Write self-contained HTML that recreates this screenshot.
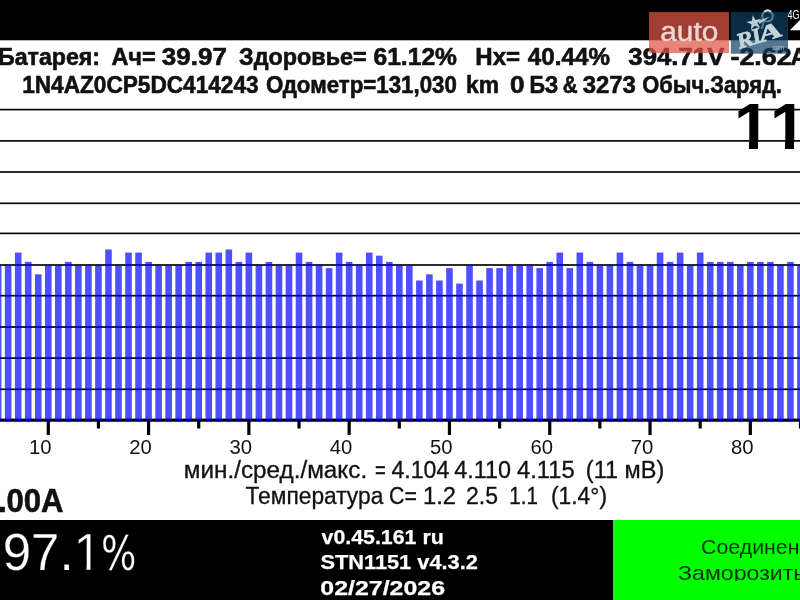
<!DOCTYPE html>
<html><head><meta charset="utf-8"><title>LeafSpy</title><style>
html,body{margin:0;padding:0;width:800px;height:600px;overflow:hidden;background:#fff}
svg{display:block;will-change:transform}
text{font-family:"Liberation Sans",Arial,sans-serif}
</style></head><body>
<svg width="800" height="600" viewBox="0 0 800 600">
<rect x="0" y="0" width="800" height="40.3" fill="#000"/>
<g fill="#080808"><rect x="0" y="108.75" width="800" height="1.7"/><rect x="0" y="140.05" width="800" height="1.7"/><rect x="0" y="171.15" width="800" height="1.7"/><rect x="0" y="202.45" width="800" height="1.7"/><rect x="0" y="232.55" width="800" height="1.7"/><rect x="0" y="264.15" width="800" height="1.7"/><rect x="0" y="294.85" width="800" height="1.7"/><rect x="0" y="326.15" width="800" height="1.7"/><rect x="0" y="357.25" width="800" height="1.7"/><rect x="0" y="388.45" width="800" height="1.7"/></g>
<rect x="0" y="418.6" width="800" height="3.1" fill="#000"/>
<g fill="rgb(0,0,255)" fill-opacity="0.69"><rect x="-5.16" y="265.00" width="6.6" height="156.70"/><rect x="4.87" y="265.00" width="6.6" height="156.70"/><rect x="14.90" y="252.58" width="6.6" height="169.12"/><rect x="24.93" y="261.90" width="6.6" height="159.80"/><rect x="34.96" y="274.31" width="6.6" height="147.39"/><rect x="44.99" y="265.00" width="6.6" height="156.70"/><rect x="55.02" y="265.00" width="6.6" height="156.70"/><rect x="65.05" y="261.90" width="6.6" height="159.80"/><rect x="75.08" y="265.00" width="6.6" height="156.70"/><rect x="85.11" y="265.00" width="6.6" height="156.70"/><rect x="95.14" y="265.00" width="6.6" height="156.70"/><rect x="105.16" y="249.48" width="6.6" height="172.22"/><rect x="115.19" y="265.00" width="6.6" height="156.70"/><rect x="125.22" y="252.58" width="6.6" height="169.12"/><rect x="135.25" y="252.58" width="6.6" height="169.12"/><rect x="145.28" y="261.90" width="6.6" height="159.80"/><rect x="155.31" y="265.00" width="6.6" height="156.70"/><rect x="165.34" y="265.00" width="6.6" height="156.70"/><rect x="175.37" y="265.00" width="6.6" height="156.70"/><rect x="185.40" y="261.90" width="6.6" height="159.80"/><rect x="195.43" y="261.90" width="6.6" height="159.80"/><rect x="205.45" y="252.58" width="6.6" height="169.12"/><rect x="215.48" y="252.58" width="6.6" height="169.12"/><rect x="225.51" y="249.48" width="6.6" height="172.22"/><rect x="235.54" y="261.90" width="6.6" height="159.80"/><rect x="245.57" y="252.58" width="6.6" height="169.12"/><rect x="255.60" y="265.00" width="6.6" height="156.70"/><rect x="265.63" y="261.90" width="6.6" height="159.80"/><rect x="275.66" y="265.00" width="6.6" height="156.70"/><rect x="285.69" y="265.00" width="6.6" height="156.70"/><rect x="295.71" y="252.58" width="6.6" height="169.12"/><rect x="305.74" y="261.90" width="6.6" height="159.80"/><rect x="315.77" y="265.00" width="6.6" height="156.70"/><rect x="325.80" y="268.10" width="6.6" height="153.60"/><rect x="335.83" y="252.58" width="6.6" height="169.12"/><rect x="345.86" y="261.90" width="6.6" height="159.80"/><rect x="355.89" y="265.00" width="6.6" height="156.70"/><rect x="365.92" y="252.58" width="6.6" height="169.12"/><rect x="375.95" y="255.69" width="6.6" height="166.01"/><rect x="385.98" y="261.90" width="6.6" height="159.80"/><rect x="396.00" y="265.00" width="6.6" height="156.70"/><rect x="406.03" y="265.00" width="6.6" height="156.70"/><rect x="416.06" y="280.52" width="6.6" height="141.18"/><rect x="426.09" y="274.31" width="6.6" height="147.39"/><rect x="436.12" y="280.52" width="6.6" height="141.18"/><rect x="446.15" y="268.10" width="6.6" height="153.60"/><rect x="456.18" y="283.62" width="6.6" height="138.08"/><rect x="466.21" y="265.00" width="6.6" height="156.70"/><rect x="476.24" y="280.52" width="6.6" height="141.18"/><rect x="486.27" y="268.10" width="6.6" height="153.60"/><rect x="496.30" y="268.10" width="6.6" height="153.60"/><rect x="506.32" y="265.00" width="6.6" height="156.70"/><rect x="516.35" y="265.00" width="6.6" height="156.70"/><rect x="526.38" y="265.00" width="6.6" height="156.70"/><rect x="536.41" y="268.10" width="6.6" height="153.60"/><rect x="546.44" y="261.90" width="6.6" height="159.80"/><rect x="556.47" y="252.58" width="6.6" height="169.12"/><rect x="566.50" y="268.10" width="6.6" height="153.60"/><rect x="576.53" y="252.58" width="6.6" height="169.12"/><rect x="586.56" y="261.90" width="6.6" height="159.80"/><rect x="596.59" y="265.00" width="6.6" height="156.70"/><rect x="606.61" y="265.00" width="6.6" height="156.70"/><rect x="616.64" y="252.58" width="6.6" height="169.12"/><rect x="626.67" y="261.90" width="6.6" height="159.80"/><rect x="636.70" y="265.00" width="6.6" height="156.70"/><rect x="646.73" y="265.00" width="6.6" height="156.70"/><rect x="656.76" y="252.58" width="6.6" height="169.12"/><rect x="666.79" y="261.90" width="6.6" height="159.80"/><rect x="676.82" y="252.58" width="6.6" height="169.12"/><rect x="686.85" y="265.00" width="6.6" height="156.70"/><rect x="696.88" y="252.58" width="6.6" height="169.12"/><rect x="706.90" y="261.90" width="6.6" height="159.80"/><rect x="716.93" y="261.90" width="6.6" height="159.80"/><rect x="726.96" y="261.90" width="6.6" height="159.80"/><rect x="736.99" y="265.00" width="6.6" height="156.70"/><rect x="747.02" y="261.90" width="6.6" height="159.80"/><rect x="757.05" y="261.90" width="6.6" height="159.80"/><rect x="767.08" y="261.90" width="6.6" height="159.80"/><rect x="777.11" y="265.00" width="6.6" height="156.70"/><rect x="787.14" y="261.90" width="6.6" height="159.80"/><rect x="797.17" y="265.00" width="6.6" height="156.70"/></g>
<g fill="#000"><rect x="46.69" y="420" width="3.2" height="15"/><rect x="96.84" y="420" width="3.2" height="8.5"/><rect x="146.98" y="420" width="3.2" height="15"/><rect x="197.13" y="420" width="3.2" height="8.5"/><rect x="247.27" y="420" width="3.2" height="15"/><rect x="297.41" y="420" width="3.2" height="8.5"/><rect x="347.56" y="420" width="3.2" height="15"/><rect x="397.70" y="420" width="3.2" height="8.5"/><rect x="447.85" y="420" width="3.2" height="15"/><rect x="498.00" y="420" width="3.2" height="8.5"/><rect x="548.14" y="420" width="3.2" height="15"/><rect x="598.28" y="420" width="3.2" height="8.5"/><rect x="648.43" y="420" width="3.2" height="15"/><rect x="698.57" y="420" width="3.2" height="8.5"/><rect x="748.72" y="420" width="3.2" height="15"/><rect x="798.87" y="420" width="3.2" height="8.5"/></g>
<g font-size="20.3" fill="#111"><text x="51.49" y="453.5" text-anchor="end">10</text><text x="151.78" y="453.5" text-anchor="end">20</text><text x="252.07" y="453.5" text-anchor="end">30</text><text x="352.36" y="453.5" text-anchor="end">40</text><text x="452.65" y="453.5" text-anchor="end">50</text><text x="552.94" y="453.5" text-anchor="end">60</text><text x="653.23" y="453.5" text-anchor="end">70</text><text x="753.52" y="453.5" text-anchor="end">80</text></g>
<g fill="#111" stroke="#111">
<text x="-1.97" y="64.8" font-weight="bold" font-size="23.5" stroke-width="0.6" textLength="102.05" lengthAdjust="spacingAndGlyphs">Батарея:</text>
<text x="111.40" y="64.8" font-weight="bold" font-size="23.5" stroke-width="0.6" textLength="44.34" lengthAdjust="spacingAndGlyphs">Ач=</text>
<text x="161.89" y="64.8" font-weight="bold" font-size="23.5" stroke-width="0.6" textLength="65.00" lengthAdjust="spacingAndGlyphs">39.97</text>
<text x="239.01" y="64.8" font-weight="bold" font-size="23.5" stroke-width="0.6" textLength="127.63" lengthAdjust="spacingAndGlyphs">Здоровье=</text>
<text x="373.45" y="64.8" font-weight="bold" font-size="23.5" stroke-width="0.6" textLength="83.54" lengthAdjust="spacingAndGlyphs">61.12%</text>
<text x="475.36" y="64.8" font-weight="bold" font-size="23.5" stroke-width="0.6" textLength="44.73" lengthAdjust="spacingAndGlyphs">Нх=</text>
<text x="527.80" y="64.8" font-weight="bold" font-size="23.5" stroke-width="0.6" textLength="82.12" lengthAdjust="spacingAndGlyphs">40.44%</text>
<text x="628.30" y="64.8" font-weight="bold" font-size="23.5" stroke-width="0.6" textLength="96.06" lengthAdjust="spacingAndGlyphs">394.71V</text>
<text x="730.46" y="64.8" font-weight="bold" font-size="23.5" stroke-width="0.6" textLength="61.20" lengthAdjust="spacingAndGlyphs">-2.62</text>
<text x="22.17" y="93.3" font-weight="bold" font-size="23.5" stroke-width="0.6" textLength="236.40" lengthAdjust="spacingAndGlyphs">1N4AZ0CP5DC414243</text>
<text x="265.95" y="93.3" font-weight="bold" font-size="23.5" stroke-width="0.6" textLength="190.92" lengthAdjust="spacingAndGlyphs">Одометр=131,030</text>
<text x="466.06" y="93.3" font-weight="bold" font-size="23.5" stroke-width="0.6" textLength="32.98" lengthAdjust="spacingAndGlyphs">km</text>
<text x="510.14" y="93.3" font-weight="bold" font-size="23.5" stroke-width="0.6" textLength="14.56" lengthAdjust="spacingAndGlyphs">0</text>
<text x="529.41" y="93.3" font-weight="bold" font-size="23.5" stroke-width="0.6" textLength="28.80" lengthAdjust="spacingAndGlyphs">БЗ</text>
<text x="562.87" y="93.3" font-weight="bold" font-size="23.5" stroke-width="0.6" textLength="14.89" lengthAdjust="spacingAndGlyphs">&amp;</text>
<text x="582.73" y="93.3" font-weight="bold" font-size="23.5" stroke-width="0.6" textLength="53.15" lengthAdjust="spacingAndGlyphs">3273</text>
<text x="642.17" y="93.3" font-weight="bold" font-size="23.5" stroke-width="0.6" textLength="139.72" lengthAdjust="spacingAndGlyphs">Обыч.Заряд.</text>
<text x="183.89" y="478.4" font-weight="normal" font-size="23" stroke-width="0.3" textLength="183.26" lengthAdjust="spacingAndGlyphs">мин./сред./макс.</text>
<text x="375.00" y="478.4" font-weight="normal" font-size="23" stroke-width="0.3" textLength="10.75" lengthAdjust="spacingAndGlyphs">=</text>
<text x="391.50" y="478.4" font-weight="normal" font-size="23" stroke-width="0.3" textLength="57.82" lengthAdjust="spacingAndGlyphs">4.104</text>
<text x="454.28" y="478.4" font-weight="normal" font-size="23" stroke-width="0.3" textLength="56.84" lengthAdjust="spacingAndGlyphs">4.110</text>
<text x="516.97" y="478.4" font-weight="normal" font-size="23" stroke-width="0.3" textLength="57.72" lengthAdjust="spacingAndGlyphs">4.115</text>
<text x="585.88" y="478.4" font-weight="normal" font-size="23" stroke-width="0.3" textLength="78.41" lengthAdjust="spacingAndGlyphs">(11 мВ)</text>
<text x="245.51" y="503.5" font-weight="normal" font-size="23" stroke-width="0.3" textLength="137.80" lengthAdjust="spacingAndGlyphs">Температура</text>
<text x="389.07" y="503.5" font-weight="normal" font-size="23" stroke-width="0.3" textLength="27.90" lengthAdjust="spacingAndGlyphs">C=</text>
<text x="422.93" y="503.5" font-weight="normal" font-size="23" stroke-width="0.3" textLength="33.09" lengthAdjust="spacingAndGlyphs">1.2</text>
<text x="466.00" y="503.5" font-weight="normal" font-size="23" stroke-width="0.3" textLength="31.98" lengthAdjust="spacingAndGlyphs">2.5</text>
<text x="509.21" y="503.5" font-weight="normal" font-size="23" stroke-width="0.3" textLength="28.68" lengthAdjust="spacingAndGlyphs">1.1</text>
<text x="551.01" y="503.5" font-weight="normal" font-size="23" stroke-width="0.3" textLength="55.98" lengthAdjust="spacingAndGlyphs">(1.4°)</text>
<text x="790.6" y="64.8" font-weight="bold" font-size="23.5" stroke-width="0.6">A</text>
<text x="-2.2" y="512.4" font-weight="bold" font-size="33" stroke-width="0.6">.</text>
<text x="6.46" y="512.4" font-weight="bold" font-size="33" stroke-width="0.6" textLength="57.06" lengthAdjust="spacingAndGlyphs">00A</text>
</g>
<clipPath id="c1" clipPathUnits="userSpaceOnUse"><rect x="714" y="69" width="80" height="73"/><rect x="749" y="141" width="9" height="10"/></clipPath><text x="734" y="149" font-size="65.5" font-weight="bold" fill="#000" clip-path="url(#c1)">1</text><clipPath id="c2" clipPathUnits="userSpaceOnUse"><rect x="750" y="69" width="80" height="73"/><rect x="785" y="141" width="9" height="10"/></clipPath><text x="770" y="149" font-size="65.5" font-weight="bold" fill="#000" clip-path="url(#c2)">1</text>
<rect x="0" y="520" width="613" height="80" fill="#000"/>
<rect x="613" y="520" width="187" height="80" fill="#0f0"/>
<g fill="#fff" stroke="#000" stroke-width="0.6">
<text x="2.80" y="570.0" font-weight="normal" font-size="51" stroke-width="0.25" textLength="70.80" lengthAdjust="spacingAndGlyphs">97.</text>
<clipPath id="c3" clipPathUnits="userSpaceOnUse"><rect x="53.5" y="490" width="80" height="75.4"/><rect x="86.5" y="564.4" width="4" height="7.6"/></clipPath><text x="73.5" y="570" font-size="51" font-weight="normal" fill="#fff" clip-path="url(#c3)">1</text>
</g>
<text x="101.0" y="570" font-size="47.8" fill="#fff" stroke="#000" stroke-width="0.3" style="font-family:'DejaVu Sans',sans-serif" textLength="35.4" lengthAdjust="spacingAndGlyphs">%</text>
<g fill="#fff" stroke="#fff">
<text x="321.50" y="543.6" font-weight="bold" font-size="21" stroke-width="0.25" textLength="122.29" lengthAdjust="spacingAndGlyphs">v0.45.161 ru</text>
<text x="320.46" y="569.1" font-weight="bold" font-size="21" stroke-width="0.25" textLength="157.35" lengthAdjust="spacingAndGlyphs">STN1151 v4.3.2</text>
<text x="320.31" y="595.2" font-weight="bold" font-size="21" stroke-width="0.25" textLength="124.75" lengthAdjust="spacingAndGlyphs">02/27/2026</text>
</g>
<svg x="613" y="520" width="187" height="61">
<g fill="#033003" transform="translate(-613,-520)">
<text x="701.09" y="554.3" font-weight="normal" font-size="21" stroke-width="0.25" textLength="98.37" lengthAdjust="spacingAndGlyphs">Соединен</text>
<text x="678.10" y="579.8" font-weight="normal" font-size="21" stroke-width="0.25" textLength="127.21" lengthAdjust="spacingAndGlyphs">Заморозить</text>
</g></svg>
<!-- status bar -->
<text x="787.6" y="18.8" font-size="12.2" fill="#fff" textLength="12" lengthAdjust="spacingAndGlyphs">4G</text>
<path d="M789.8 30.2 L800 20 L800 30.2 Z" fill="#fff"/>
<!-- watermark -->
<g>
<rect x="649" y="12.1" width="80" height="41" fill="rgb(223,84,70)" fill-opacity="0.72"/>
<rect x="730.8" y="12.1" width="57.2" height="41.6" fill="rgb(14,64,99)" fill-opacity="0.7"/>
<text x="660.3" y="40.6" font-size="27.5" fill="#ecd6d2" stroke="#ecd6d2" stroke-width="0.4" textLength="58" lengthAdjust="spacingAndGlyphs">auto</text>
<circle cx="767.5" cy="16.3" r="5.2" fill="none" stroke="#4a8098" stroke-width="2.2"/>
<path d="M764 21 L761.5 29" stroke="#4a8098" stroke-width="2" fill="none"/>
<path d="M764.2 11.6 A5.2 5.2 0 0 1 771 11.6" stroke="#e0e0e0" stroke-width="1.6" fill="none"/>
<path d="M754.2 15 L756 20.3 L761.8 20.3 L757.2 23.6 L759 29 L754.2 25.7 L749.4 29 L751.2 23.6 L746.6 20.3 L752.4 20.3 Z" fill="#b9ccd3" transform="rotate(-12 754.2 22.5)"/>
<path d="M758 21 L770 16.5 L759.5 24 Z" fill="#b9ccd3"/>
<g style="font-family:'Liberation Serif',serif" font-weight="bold" font-size="22" fill="#c3d3d8" stroke="#c3d3d8" stroke-width="0.8" transform="translate(739 49) rotate(-17) skewX(-8)">
<text x="0" y="0" style="font-family:'Liberation Serif',serif">R</text>
<text x="15.2" y="0" style="font-family:'Liberation Serif',serif">I</text>
<text x="21.5" y="0" style="font-family:'Liberation Serif',serif" textLength="24" lengthAdjust="spacingAndGlyphs">A</text>
</g>
<text x="771.5" y="50" font-size="7" fill="#b9ccd3" textLength="12.5" lengthAdjust="spacingAndGlyphs">.com</text>
</g>
</svg>
</body></html>
